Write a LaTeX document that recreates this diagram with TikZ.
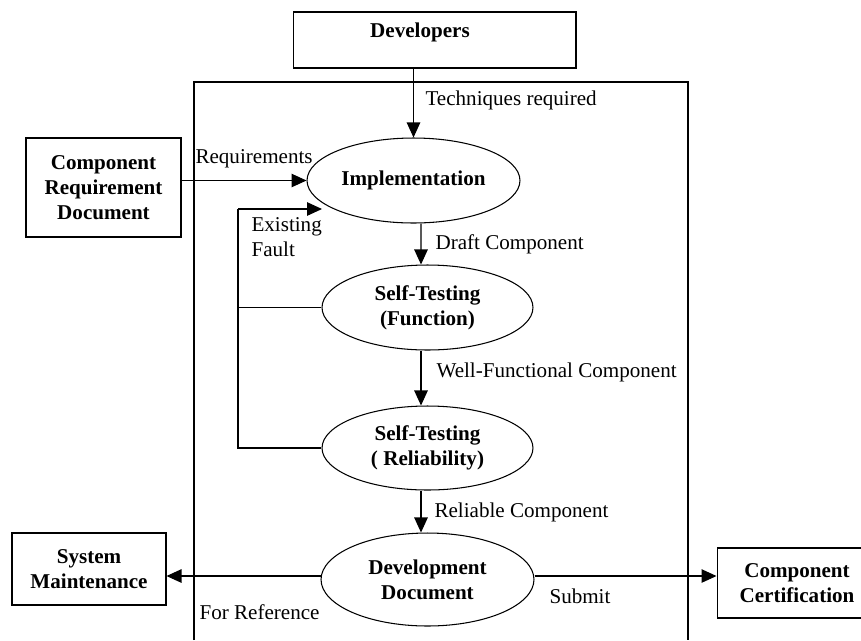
\documentclass[tikz,border=0pt]{standalone}
\usepackage{fontspec}
\setmainfont{Liberation Serif}
\usetikzlibrary{shapes.geometric,arrows.meta,calc}
\begin{document}
\begin{tikzpicture}[x=0.02cm,y=-0.02cm,
  line width=0.6pt,
  every node/.style={font=\fontsize{12}{14.3}\selectfont},
  arr/.style={-{Triangle[length=0.3cm,width=0.27cm]}},
  boxnode/.style={draw,rectangle,inner sep=0pt,align=center,font=\fontsize{12}{14.3}\selectfont\bfseries},
  proc/.style={draw,ellipse,inner sep=0pt,align=center,font=\fontsize{12}{14.3}\selectfont\bfseries},
  lbl/.style={anchor=west,inner sep=0pt,align=left}]
\useasboundingbox (0,0) rectangle (861,640);

% enclosing boundary of the development process
\draw (194,640) -- (194,82) -- (688,82) -- (688,640);

% external boxes
\node[boxnode,minimum width=5.66cm,minimum height=1.12cm] (dev) at (434.5,40) {};
\node[inner sep=0pt,font=\fontsize{12}{14.3}\selectfont\bfseries] (devtext) at (420,32) {Developers};
\node[boxnode,minimum width=3.1cm,minimum height=1.98cm] (crd) at (103.5,187.5) {Component\\Requirement\\Document};
\node[boxnode,minimum width=3.08cm,minimum height=1.44cm] (sm) at (89,569) {System\\Maintenance};
\node[boxnode,minimum width=3.2cm,minimum height=1.4cm] (cc) at (797,583) {Component\\Certification};

% process stages
\node[proc,minimum width=4.26cm,minimum height=1.7cm] (impl) at (413.5,180.5) {Implementation};
\node[proc,minimum width=4.22cm,minimum height=1.7cm] (func) at (427.5,307.5) {Self-Testing\\(Function)};
\node[proc,minimum width=4.22cm,minimum height=1.68cm] (relia) at (427.5,448) {Self-Testing\\( Reliability)};
\node[proc,minimum width=4.26cm,minimum height=1.86cm] (dd) at (427.5,579.5) {Development\\Document};

% main flow
\draw[arr] (dev.south -| impl.north) -- (impl.north);
\draw[arr] (crd.east |- impl.west) -- (impl.west);
\draw[arr] ([xshift=0.15cm]impl.south) -- ([xshift=-0.13cm]func.north);
\draw[arr] ([xshift=-0.13cm]func.south) -- ([xshift=-0.13cm]relia.north);
\draw[arr] ([xshift=-0.13cm]relia.south) -- ([xshift=-0.13cm]dd.north);
\draw[arr] ([yshift=0.07cm]dd.west) -- ([yshift=0.07cm]dd.west -| sm.east);
\draw[arr] ([yshift=0.07cm]dd.east) -- ([yshift=0.07cm]dd.east -| cc.west);

% fault feedback loop
\coordinate (loopbot) at (238,448);
\coordinate (looptop) at (238,209);
\coordinate (fault) at (322,209);
\draw (relia.west) -- (loopbot) -- (looptop);
\draw[arr] (looptop) -- (fault);
\draw (func.west) -- (func.west -| looptop);

% flow labels
\node[lbl] (tech) at (425,100) {Techniques required};
\node[lbl] (req) at (195,159) {Requirements};
\node[lbl] (ef) at (251,237) {Existing\\Fault};
\node[lbl] (draft) at (435,244) {Draft Component};
\node[lbl] (wf) at (436,372) {Well-Functional Component};
\node[lbl] (rc) at (434,512) {Reliable Component};
\node[lbl] (ref) at (199,612) {For Reference};
\node[lbl] (sub) at (549,596) {Submit};
\end{tikzpicture}
\end{document}
